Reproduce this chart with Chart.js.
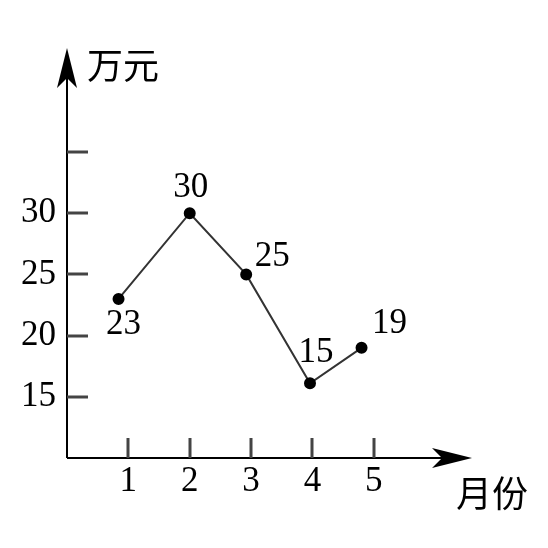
<!DOCTYPE html>
<html>
<head>
<meta charset="utf-8">
<script src="https://cdn.jsdelivr.net/npm/chart.js@4"></script>
<style>
  html, body { margin: 0; padding: 0; background: #fff; }
  #wrap { width: 548px; height: 548px; }
</style>
</head>
<body>
<div id="wrap"><canvas id="salesChart" width="548" height="548"></canvas></div>
<script>
// month ticks on the x axis
const months = [1, 2, 3, 4, 5];
// values written next to each point
const sales = [23, 30, 25, 15, 19];
// where the points are drawn in the picture (x in months, y in 万元)
const pointX = [0.84, 2, 2.92, 3.96, 4.8];
const pointY = [23, 30, 25, 16.1, 19];
// y axis: labelled ticks and all tick marks
const yTicks = [15, 20, 25, 30];
const yMarks = [15, 20, 25, 30, 35];

// label offsets from each point (px)
const labelOffsets = [[5, 26], [1, -25], [26, -18], [6, -31], [28, -24]];

const serif = "'Liberation Serif', 'Times New Roman', serif";
const cjk = "'Noto Sans CJK SC', sans-serif";

function arrow(ctx, tipX, tipY, dirX, dirY) {
  const len = 40, half = 10, notch = 30;
  const px = -dirY, py = dirX;
  ctx.beginPath();
  ctx.moveTo(tipX, tipY);
  ctx.lineTo(tipX - dirX * len + px * half, tipY - dirY * len + py * half);
  ctx.lineTo(tipX - dirX * notch, tipY - dirY * notch);
  ctx.lineTo(tipX - dirX * len - px * half, tipY - dirY * len - py * half);
  ctx.closePath();
  ctx.fill();
}

// axes with arrows, inner ticks, point labels, axis titles
const axesPlugin = {
  id: 'axesPlugin',
  afterDraw(chart) {
    const { ctx, chartArea: a, scales } = chart;
    const xs = scales.x, ys = scales.y;
    ctx.save();
    ctx.strokeStyle = '#000';
    ctx.fillStyle = '#000';
    ctx.lineWidth = 2;
    ctx.beginPath();
    ctx.moveTo(a.left, a.bottom);
    ctx.lineTo(a.left, a.top + 20);
    ctx.moveTo(a.left, a.bottom);
    ctx.lineTo(a.right - 20, a.bottom);
    ctx.stroke();
    arrow(ctx, a.left, a.top, 0, -1);
    arrow(ctx, a.right, a.bottom, 1, 0);

    ctx.strokeStyle = '#444';
    ctx.lineWidth = 3;
    ctx.beginPath();
    yMarks.forEach(v => {
      const y = Math.round(ys.getPixelForValue(v));
      ctx.moveTo(a.left, y);
      ctx.lineTo(a.left + 21, y);
    });
    months.forEach(m => {
      const x = Math.round(xs.getPixelForValue(m));
      ctx.moveTo(x, a.bottom);
      ctx.lineTo(x, a.bottom - 20);
    });
    ctx.stroke();

    const meta = chart.getDatasetMeta(0);
    ctx.font = '35px ' + serif;
    ctx.textAlign = 'center';
    ctx.textBaseline = 'middle';
    meta.data.forEach((pt, i) => {
      const [dx, dy] = labelOffsets[i];
      ctx.fillText(String(sales[i]), pt.x + dx, pt.y + dy);
    });

    ctx.font = '36px ' + cjk;
    ctx.fillText('万元', a.left + 56, a.top + 17);
    ctx.fillText('月份', a.right + 20, a.bottom + 35);
    ctx.restore();
  }
};

new Chart(document.getElementById('salesChart'), {
  type: 'line',
  data: {
    datasets: [{
      data: pointX.map((x, i) => ({ x, y: pointY[i] })),
      borderColor: '#333',
      borderWidth: 2,
      pointRadius: 5,
      pointBackgroundColor: '#000',
      pointBorderColor: '#000',
      tension: 0,
      fill: false
    }]
  },
  options: {
    responsive: false,
    animation: false,
    events: [],
    layout: { padding: { top: 48, right: 76, left: 0, bottom: 0 } },
    plugins: { legend: { display: false }, tooltip: { enabled: false } },
    scales: {
      x: {
        type: 'linear',
        min: 0,
        max: 6.6,
        afterBuildTicks: s => { s.ticks = months.map(v => ({ value: v })); },
        afterFit: s => { s.height = 90; },
        grid: { display: false, drawTicks: false },
        border: { display: false },
        ticks: { color: '#000', font: { family: serif, size: 35 }, padding: 3, maxRotation: 0, autoSkip: false }
      },
      y: {
        type: 'linear',
        min: 10,
        max: 43.5,
        afterBuildTicks: s => { s.ticks = yTicks.map(v => ({ value: v })); },
        afterFit: s => { s.width = 67; },
        grid: { display: false, drawTicks: false },
        border: { display: false },
        ticks: { color: '#000', font: { family: serif, size: 35 }, padding: 11, autoSkip: false }
      }
    }
  },
  plugins: [axesPlugin]
});
</script>
</body>
</html>
